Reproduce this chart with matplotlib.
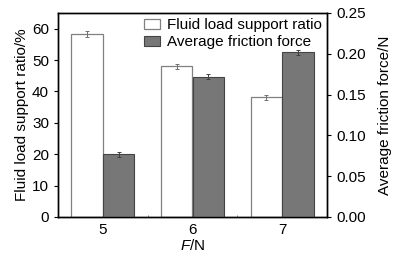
import matplotlib
matplotlib.use("Agg")
import matplotlib.pyplot as plt
import numpy as np

plt.rcParams['font.family'] = ['Liberation Sans', 'DejaVu Sans']
plt.rcParams['mathtext.fontset'] = 'custom'
plt.rcParams['mathtext.it'] = 'Liberation Sans:italic'
plt.rcParams['mathtext.rm'] = 'Liberation Sans'

loads = [5, 6, 7]
fluid_ratio = [58.2, 48.0, 38.2]
fluid_err = [1.0, 0.9, 0.8]
friction = [0.077, 0.172, 0.202]
friction_err = [0.003, 0.003, 0.003]

fig = plt.figure(figsize=(4.03, 2.59), dpi=100)
ax = fig.add_axes([58/403, 1-217/259, 269/403, 204/259])
ax2 = ax.twinx()

w = 0.35
x = np.array(loads, dtype=float)
ax.bar(x - w/2, fluid_ratio, width=w, color='white', edgecolor='#808080', linewidth=0.9,
       yerr=fluid_err, error_kw=dict(ecolor='#707070', elinewidth=0.7, capsize=1.5, capthick=0.7),
       label='Fluid load support ratio', zorder=2)
ax2.bar(x + w/2, friction, width=w, color='#777777', edgecolor='#444444', linewidth=0.8,
        yerr=friction_err, error_kw=dict(ecolor='#404040', elinewidth=0.7, capsize=1.5, capthick=0.7),
        label='Average friction force', zorder=2)

ax.set_xlim(4.5, 7.5)
ax.set_ylim(0, 65)
ax2.set_ylim(0, 0.25)
ax.set_xticks(loads)
ax.set_xticklabels([str(v) for v in loads])
ax.set_xticks([5.5, 6.5], minor=True)
ax.tick_params(axis='x', which='major', length=0, labelsize=11, pad=4)
ax.tick_params(axis='x', which='minor', length=1.5, direction='in', width=0.5, color='#555555')
ax.set_yticks([0, 10, 20, 30, 40, 50, 60])
ax.tick_params(axis='y', length=3, direction='out', labelsize=11, width=0.8)
ax2.set_yticks([0, 0.05, 0.10, 0.15, 0.20, 0.25])
ax2.set_yticklabels(['0.00', '0.05', '0.10', '0.15', '0.20', '0.25'])
ax2.tick_params(axis='y', length=3, direction='out', labelsize=11, width=0.8)

for a in (ax, ax2):
    for s in a.spines.values():
        s.set_linewidth(1.0)

ax.set_xlabel('$\\mathit{F}$/N', fontsize=11, labelpad=1)
ax.set_ylabel('Fluid load support ratio/%', fontsize=11, labelpad=2)
ax2.set_ylabel('Average friction force/N', fontsize=11, labelpad=9)

h1, l1 = ax.get_legend_handles_labels()
h2, l2 = ax2.get_legend_handles_labels()
ax2.legend(h1 + h2, l1 + l2, loc='upper right', frameon=False, fontsize=11,
           handlelength=1.1, handleheight=0.6, handletextpad=0.45, labelspacing=0.2,
           borderaxespad=0.0, bbox_to_anchor=(1.005, 1.005))

fig.savefig('out.png', dpi=100)
